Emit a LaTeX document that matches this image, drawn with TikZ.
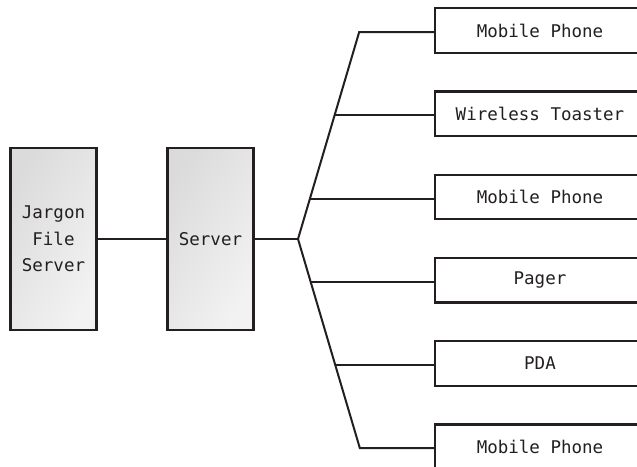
\documentclass[tikz,border=0pt]{standalone}
\usepackage{fontspec}
\newfontfamily\boxfont{DejaVu Sans Mono}
\usetikzlibrary{calc}
\definecolor{ink}{HTML}{231F20}
\tikzset{
  txt/.style={font=\boxfont\fontsize{17.5}{26.5}\selectfont, text=ink},
  serverbox/.style={txt, draw=ink, line width=2.4pt, left color=black!14, right color=black!5,
    shading angle=60, minimum width=86pt, minimum height=182pt, inner sep=0pt, align=center},
  devicebox/.style={txt, draw=ink, line width=2.3pt, fill=white,
    minimum width=210pt, minimum height=44.5pt, inner sep=0pt},
  link/.style={draw=ink, line width=2pt}
}
\begin{document}
\begin{tikzpicture}[x=1pt, y=-1pt]
  \useasboundingbox (0,0) rectangle (637,466);
  \clip (0,0) rectangle (637,466);

  % servers on the left
  \node[serverbox] (jfs) at (53.5,239) {Jargon\\File\\Server};
  \node[serverbox] (srv) at (210.5,239) {Server};

  % client devices on the right (boxes run past the page edge)
  \node[devicebox] (d1) at (540,30.5)  {Mobile Phone};
  \node[devicebox] (d2) at (540,113.7) {Wireless Toaster};
  \node[devicebox] (d3) at (540,197)   {Mobile Phone};
  \node[devicebox] (d4) at (540,280.2) {Pager};
  \node[devicebox] (d5) at (540,363.5) {PDA};
  \node[devicebox] (d6) at (540,446.7) {Mobile Phone};

  % fan-out hub and bend points on the two diagonals
  \coordinate (hub) at (298,239);
  \coordinate (b1) at (359.2,32);
  \coordinate (b2) at (334.6,115);
  \coordinate (b3) at (309.9,199);
  \coordinate (b4) at (310.5,282);
  \coordinate (b5) at (335.2,365);
  \coordinate (b6) at (359.8,448);

  \draw[link] (jfs.east) -- (srv.west);
  \draw[link] (srv.east) -- (hub);
  \draw[link] (hub) -- (b1) -- (d1.west |- b1);
  \draw[link] (b2) -- (d2.west |- b2);
  \draw[link] (b3) -- (d3.west |- b3);
  \draw[link] (hub) -- (b6) -- (d6.west |- b6);
  \draw[link] (b4) -- (d4.west |- b4);
  \draw[link] (b5) -- (d5.west |- b5);
\end{tikzpicture}
\end{document}
